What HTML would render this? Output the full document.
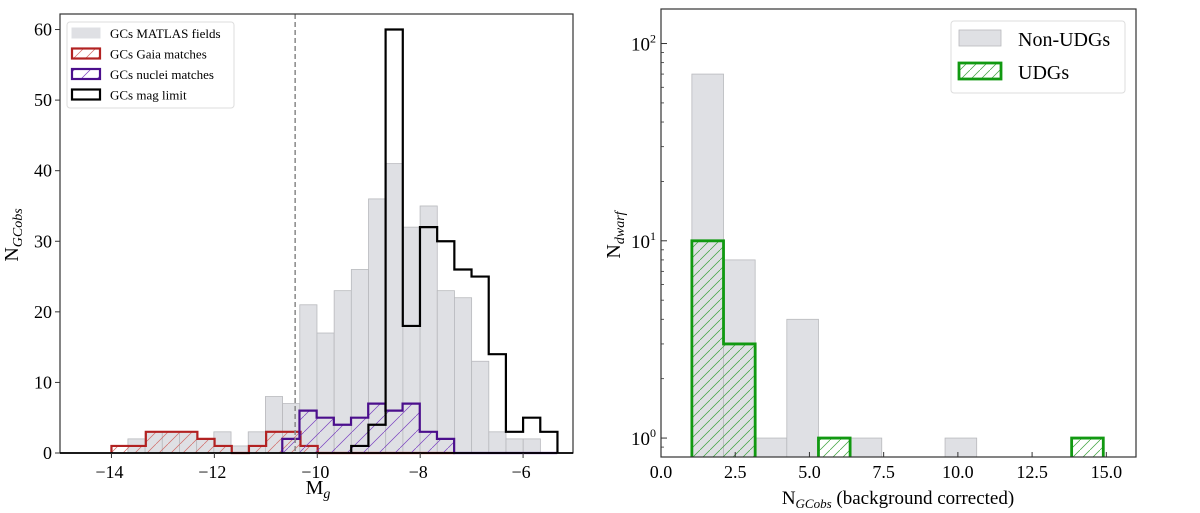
<!DOCTYPE html>
<html><head><meta charset="utf-8">
<style>
html,body{margin:0;padding:0;background:#fff;}
svg{display:block;font-family:"Liberation Serif",serif;}
</style></head>
<body>
<svg id="fig" width="1200" height="513" viewBox="0 0 1200 513" xmlns="http://www.w3.org/2000/svg">
<defs>
<pattern id="hatchRed" patternUnits="userSpaceOnUse" width="12" height="12"><path d="M-2,14 L14,-2" stroke="#d06a66" stroke-width="0.7"/></pattern>
<pattern id="hatchPur" patternUnits="userSpaceOnUse" width="16" height="16"><path d="M-2,18 L18,-2" stroke="#7a3fbf" stroke-width="0.7"/></pattern>
<pattern id="hatchGrn" patternUnits="userSpaceOnUse" width="10" height="10"><path d="M-2,12 L12,-2" stroke="#3aa03a" stroke-width="0.7"/></pattern>
<clipPath id="clipL"><rect x="60" y="14" width="513" height="441"/></clipPath>
<clipPath id="clipR"><rect x="661" y="9" width="475" height="448"/></clipPath>
</defs>
<g id="left"></g>
<g id="right"></g>
</svg>
<script>
// ---- Left panel data ----
const grayStart = -13.68, grayWidth = 0.334;
const grayCounts = [2,3,3,3,2,3,1,3,8,7,21,17,23,26,36,41,32,35,23,22,13,3,2,2];
const gaiaStart = -14.0, gaiaWidth = 0.334;
const gaiaCounts = [1,1,3,3,3,2,1,0,1,3,3,1,0,0,0,0,0,0,0,0];
const nucStart = -10.68, nucWidth = 0.334;
const nucCounts = [2,6,5,4,5,7,6,7,3,2,0,0,0,0,0,0];
const magStart = -9.34, magWidth = 0.334;
const magCounts = [1,4,60,18,32,30,26,25,14,3,5,3];
const xTicksL = [-14,-12,-10,-8,-6];
const yTicksL = [0,10,20,30,40,50,60];
const dashedX = -10.43;
// ---- Right panel data ----
const rStart = 1.04, rWidth = 1.066;
const nonUdg = [70,8,1,4,0,1,0,0,1];
const udg = [10,3,0,0,1,0,0,0,0,0,0,0,1];
const xTicksR = [0.0,2.5,5.0,7.5,10.0,12.5,15.0];
const yTicksR = [0,1,2];

const NS = "http://www.w3.org/2000/svg";
function mk(parent, tag, attrs, text){
  const e = document.createElementNS(NS, tag);
  for (const k in attrs) e.setAttribute(k, attrs[k]);
  if (text !== undefined) e.textContent = text;
  parent.appendChild(e);
  return e;
}
const L = {x0:60, x1:573, y0:14, y1:453, xmin:-15, xmax:-5.03, ymin:0, ymax:62.2};
const lx = v => L.x0 + (v - L.xmin)/(L.xmax-L.xmin)*(L.x1-L.x0);
const ly = v => L.y1 - (v - L.ymin)/(L.ymax-L.ymin)*(L.y1-L.y0);
const glRoot = document.getElementById('left');
const gl = mk(glRoot,'g',{'clip-path':'url(#clipL)'});



grayCounts.forEach((c,i)=>{
  if(!c) return;
  const a = grayStart + i*grayWidth, b = a + grayWidth;
  const r = mk(gl,'rect',{x:lx(a),y:ly(c),width:lx(b)-lx(a),height:ly(0)-ly(c),fill:'#dfe0e4',stroke:'#b8b9bd','stroke-width':0.8});
  
  
});
function stepPath(start,width,counts,X,Y){
  let d = `M${X(start)},${Y(0)}`;
  counts.forEach((c,i)=>{ const a=start+i*width,b=a+width; d+=` L${X(a)},${Y(c)} L${X(b)},${Y(c)}`; });
  d += ` L${X(start+counts.length*width)},${Y(0)}`;
  return d;
}
function stepSeries(parent,start,width,counts,X,Y,color,fill,name){
  const d = stepPath(start,width,counts,X,Y);
  const f = mk(parent,'path',{d:d+' Z',fill:fill,stroke:'none'});
  
  
  const p = mk(parent,'path',{d:d,fill:'none',stroke:color,'stroke-width':2.2,'stroke-linejoin':'miter'});
  
  
}
stepSeries(gl,gaiaStart,gaiaWidth,gaiaCounts,lx,ly,'#b22222','url(#hatchRed)','gaia-step');
stepSeries(gl,nucStart,nucWidth,nucCounts,lx,ly,'#4b0f8c','url(#hatchPur)','nuclei-step');
stepSeries(gl,magStart,magWidth,magCounts,lx,ly,'#000','none','maglimit-step');

const dl = mk(gl,'line',{x1:lx(dashedX),x2:lx(dashedX),y1:L.y0,y2:L.y1,stroke:'#888','stroke-width':1.5,'stroke-dasharray':'5,3'});



const fr = mk(glRoot,'rect',{x:L.x0,y:L.y0,width:L.x1-L.x0,height:L.y1-L.y0,fill:'none',stroke:'#333','stroke-width':1.2});


mk(glRoot,'line',{x1:L.x0,x2:L.x1,y1:L.y1,y2:L.y1,stroke:'#000','stroke-width':1.8});

xTicksL.forEach(t=>{
  mk(glRoot,'line',{x1:lx(t),x2:lx(t),y1:L.y1,y2:L.y1+5,stroke:'#333','stroke-width':1});
  const tx = mk(glRoot,'text',{x:lx(t)-2,y:L.y1+25,'text-anchor':'middle','font-size':18},'\u2212'+Math.abs(t));
  
  
});
yTicksL.forEach(t=>{
  mk(glRoot,'line',{x1:L.x0-5,x2:L.x0,y1:ly(t),y2:ly(t),stroke:'#333','stroke-width':1});
  const tx = mk(glRoot,'text',{x:L.x0-8,y:ly(t)+6,'text-anchor':'end','font-size':18},String(t));
  
  
});
</script>
<script>
(function(){
const gl = document.getElementById('left');
const NS = "http://www.w3.org/2000/svg";
function mk(parent, tag, attrs, html){
  const e = document.createElementNS(NS, tag);
  for (const k in attrs) e.setAttribute(k, attrs[k]);
  if (html !== undefined) e.innerHTML = html;
  parent.appendChild(e); return e;
}
let t = mk(gl,'text',{x:318,y:494,'text-anchor':'middle','font-size':20},'M<tspan font-style="italic" font-size="14" dy="4">g</tspan>');


t = mk(gl,'text',{transform:'translate(18,235) rotate(-90)','text-anchor':'middle','font-size':20},'N<tspan font-style="italic" font-size="14" dy="4">GCobs</tspan>');


const lg = mk(gl,'g',{});


mk(lg,'rect',{x:67,y:22,width:167,height:86,rx:3,fill:'#fff',stroke:'#ddd','stroke-width':1});
const items=[['GCs MATLAS fields','#dfe0e4','#dfe0e4',1],['GCs Gaia matches','url(#hatchRed)','#b22222',2.2],['GCs nuclei matches','url(#hatchPur)','#4b0f8c',2.2],['GCs mag limit','#fff','#000',2.2]];
items.forEach((it,i)=>{
  const y = 28+i*20.5;
  const g = mk(lg,'g',{});
  
  
  mk(g,'rect',{x:72,y:y,width:28,height:10,fill:it[1],stroke:it[2],'stroke-width':it[3]});
  mk(g,'text',{x:110,y:y+10,'font-size':13},it[0]);
});
})();
</script>
<script>
(function(){
const NS = "http://www.w3.org/2000/svg";
function mk(parent, tag, attrs, html){
  const e = document.createElementNS(NS, tag);
  for (const k in attrs) e.setAttribute(k, attrs[k]);
  if (html !== undefined) e.innerHTML = html;
  parent.appendChild(e); return e;
}
const R = {x0:661, x1:1136, y0:9, y1:457, xmin:0, xmax:16.0, lmin:-0.096, lmax:2.175};
const rx = v => R.x0 + (v-R.xmin)/(R.xmax-R.xmin)*(R.x1-R.x0);
const ry = v => { const l = v>0 ? Math.log10(v) : R.lmin; return R.y1 - (Math.max(l,R.lmin)-R.lmin)/(R.lmax-R.lmin)*(R.y1-R.y0); };
const grRoot = document.getElementById('right');
const gr = mk(grRoot,'g',{'clip-path':'url(#clipR)'});


nonUdg.forEach((c,i)=>{
  if(!c) return;
  const a = rStart+i*rWidth, b=a+rWidth;
  const r = mk(gr,'rect',{x:rx(a),y:ry(c),width:rx(b)-rx(a),height:R.y1-ry(c),fill:'#dfe0e4',stroke:'#b8b9bd','stroke-width':0.8});
  
  
});
let i=0;
while(i<udg.length){
  if(!udg[i]){i++;continue;}
  let j=i; while(j<udg.length && udg[j]) j++;
  const a0 = rStart+i*rWidth;
  let d = `M${rx(a0)},${R.y1}`;
  for(let k=i;k<j;k++){ const a=rStart+k*rWidth,b=a+rWidth; d+=` L${rx(a)},${ry(udg[k])} L${rx(b)},${ry(udg[k])}`; }
  d += ` L${rx(rStart+j*rWidth)},${R.y1}`;
  const f = mk(gr,'path',{d:d+' Z',fill:'url(#hatchGrn)',stroke:'none'});
  
  
  const p = mk(gr,'path',{d:d,fill:'none',stroke:'#119911','stroke-width':2.8});
  
  
  i=j;
}
const fr = mk(grRoot,'rect',{x:R.x0,y:R.y0,width:R.x1-R.x0,height:R.y1-R.y0,fill:'none',stroke:'#333','stroke-width':1.2});


xTicksR.forEach(t=>{
  mk(grRoot,'line',{x1:rx(t),x2:rx(t),y1:R.y1,y2:R.y1-5,stroke:'#333','stroke-width':1});
  const tx = mk(grRoot,'text',{x:rx(t),y:R.y1+21,'text-anchor':'middle','font-size':18},t.toFixed(1));
  
  
});
yTicksR.forEach(t=>{
  const y = ry(Math.pow(10,t));
  mk(grRoot,'line',{x1:R.x0,x2:R.x0+6,y1:y,y2:y,stroke:'#333','stroke-width':1});
  const tx = mk(grRoot,'text',{x:R.x0-5,y:y+7,'text-anchor':'end','font-size':19},'10<tspan font-size="12" dy="-8">'+t+'</tspan>');
  
  
});
for(let dec=-1;dec<=2;dec++) for(let m=2;m<=9;m++){
  const v=m*Math.pow(10,dec); const l=Math.log10(v);
  if(l<R.lmin||l>R.lmax) continue;
  mk(grRoot,'line',{x1:R.x0,x2:R.x0+3,y1:ry(v),y2:ry(v),stroke:'#333','stroke-width':0.8});
}
let t = mk(grRoot,'text',{x:898,y:504,'text-anchor':'middle','font-size':19},'N<tspan font-style="italic" font-size="13" dy="4">GCobs</tspan><tspan dy="-4"> (background corrected)</tspan>');


t = mk(grRoot,'text',{transform:'translate(620,235) rotate(-90)','text-anchor':'middle','font-size':20},'N<tspan font-style="italic" font-size="14" dy="4">dwarf</tspan>');


const lg = mk(grRoot,'g',{});


mk(lg,'rect',{x:951,y:21,width:174,height:72,rx:3,fill:'#fff',stroke:'#ddd','stroke-width':1});
let g = mk(lg,'g',{});


mk(g,'rect',{x:959,y:30,width:42,height:16,fill:'#dfe0e4',stroke:'#b8b9bd','stroke-width':0.8});
mk(g,'text',{x:1018,y:46,'font-size':20},'Non-UDGs');
g = mk(lg,'g',{});


mk(g,'rect',{x:959,y:63,width:42,height:16,fill:'url(#hatchGrn)',stroke:'#119911','stroke-width':2.8});
mk(g,'text',{x:1018,y:79,'font-size':20},'UDGs');
})();
</script>
</body></html>
